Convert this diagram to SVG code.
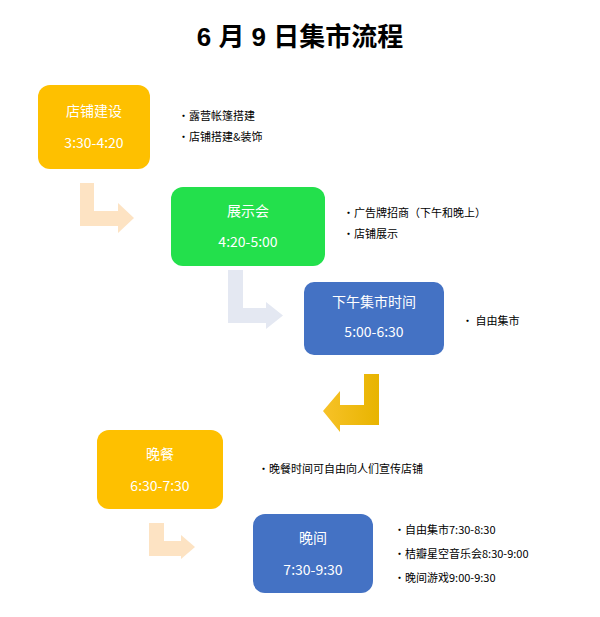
<svg xmlns="http://www.w3.org/2000/svg" width="600" height="617" viewBox="0 0 600 617">
<style>
.t{font-family:"Liberation Sans","Noto Sans CJK SC",sans-serif;}
.n{font-family:"Noto Sans CJK SC",sans-serif;fill:#fff;font-size:14px;text-anchor:middle}
.b{font-family:"Noto Sans CJK SC",sans-serif;fill:#000;font-size:11px}
</style>
<defs><linearGradient id="g" x1="0" x2="1"><stop offset="0" stop-color="#f7c228"/><stop offset="1" stop-color="#e8b400"/></linearGradient></defs>
<rect width="600" height="617" fill="#fff"/>
<text x="300" y="46" text-anchor="middle" font-size="26" font-weight="bold" class="t" font-family="Noto Sans CJK SC">6 月 9 日集市流程</text>
<g id="connectors">
<path d="M80,183H94V211H118V203L134,218L118,233V226H80Z" fill="#fde3c3"/>
<path d="M228,270H243V308H266V302L283,315.5L266,329V323H228Z" fill="#e4e8f2"/>
<path d="M379,374H364V405H340V391L323,411L340,432V425H379Z" fill="url(#g)"/>
<path d="M149,523H164V541H181V535L195,547L181,559V556H149Z" fill="#fde3c3"/>
</g>
<g id="n1"><rect x="38" y="85" width="112" height="84" rx="12" fill="#fec000"/><text class="n" x="94" y="116">店铺建设</text><text class="n" x="94" y="148" font-size="15">3:30-4:20</text></g>
<g id="n2"><rect x="171" y="187" width="154" height="79" rx="12" fill="#23e04c"/><text class="n" x="248" y="216">展示会</text><text class="n" x="248" y="247" font-size="15">4:20-5:00</text></g>
<g id="n3"><rect x="304" y="282" width="140" height="73" rx="10" fill="#4472c4"/><text class="n" x="374" y="307">下午集市时间</text><text class="n" x="374" y="337" font-size="15">5:00-6:30</text></g>
<g id="n4"><rect x="97" y="430" width="126" height="79" rx="12" fill="#fec000"/><text class="n" x="160" y="459">晚餐</text><text class="n" x="160" y="491" font-size="15">6:30-7:30</text></g>
<g id="n5"><rect x="253" y="514" width="120" height="79" rx="12" fill="#4472c4"/><text class="n" x="313" y="543" font-size="15">晚间</text><text class="n" x="313" y="575" font-size="15">7:30-9:30</text></g>
<g id="notes">
<text class="b" x="178" y="120">•露营帐篷搭建</text>
<text class="b" x="178" y="141">•店铺搭建&amp;装饰</text>
<text class="b" x="343" y="217">•广告牌招商（下午和晚上）</text>
<text class="b" x="343" y="238">•店铺展示</text>
<text class="b" x="462" y="325" font-size="15">• 自由集市</text>
<text class="b" x="258" y="473">•晚餐时间可自由向人们宣传店铺</text>
<text class="b" x="394" y="534" font-size="12">•自由集市7:30-8:30</text>
<text class="b" x="394" y="558" font-size="12">•桔瓣星空音乐会8:30-9:00</text>
<text class="b" x="394" y="582" font-size="12">•晚间游戏9:00-9:30</text>
</g>
</svg>
